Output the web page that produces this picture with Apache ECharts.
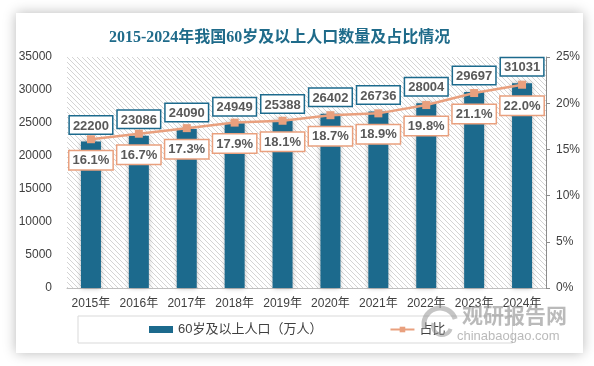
<!DOCTYPE html>
<html><head><meta charset="utf-8">
<script src="https://cdn.jsdelivr.net/npm/echarts@6/dist/echarts.min.js"></script>
<style>html,body{margin:0;padding:0;background:#fff;}#c{width:594px;height:366px;}</style>
</head><body><div id="c"></div>
<script>
const categories = ['2015年','2016年','2017年','2018年','2019年','2020年','2021年','2022年','2023年','2024年'];
const population = [22200,23086,24090,24949,25388,26402,26736,28004,29697,31031];
const share = [16.1,16.7,17.3,17.9,18.1,18.7,18.9,19.8,21.1,22.0];
const leftTicks = {min:0, max:35000, interval:5000};
const rightTicks = {min:0, max:25, interval:5};

const BLUE = '#1c6a8d', ORANGE = '#e9a07e', TXT = '#404040';
const pc = document.createElement('canvas');
pc.width = 5; pc.height = 5;
const g = pc.getContext('2d');
g.fillStyle = '#ffffff'; g.fillRect(0,0,5,5);
g.strokeStyle = '#d4d4d4'; g.lineWidth = 1;
g.beginPath(); g.moveTo(-1,-1); g.lineTo(6,6); g.stroke();
g.beginPath(); g.moveTo(-1,4); g.lineTo(1,6); g.stroke();
g.beginPath(); g.moveTo(4,-1); g.lineTo(6,1); g.stroke();

const chart = echarts.init(document.getElementById('c'), null, {renderer:'canvas'});
const font = '"Liberation Sans","Noto Sans CJK SC",sans-serif';
chart.setOption({
  animation:false,
  textStyle:{fontFamily:font},
  title:{text:'2015-2024年我国60岁及以上人口数量及占比情况', left:104, top:25,
    textStyle:{fontFamily:'"Liberation Serif","Noto Sans CJK SC",serif', fontSize:16, fontWeight:'bold', color:'#1f6b8a'}},
  graphic:[
    {type:'rect', z:-10, shape:{x:16,y:13,width:567,height:340}, style:{fill:'#fff', shadowBlur:12, shadowColor:'rgba(0,0,0,0.28)'}},
    {type:'arc', z:100, shape:{cx:440,cy:324,r:16,startAngle:Math.PI*0.9,endAngle:Math.PI*1.9}, style:{stroke:'rgba(150,150,150,0.55)', lineWidth:5, fill:null}},
    {type:'arc', z:100, shape:{cx:442,cy:326,r:9,startAngle:Math.PI*0.1,endAngle:Math.PI*1.1}, style:{stroke:'rgba(150,150,150,0.55)', lineWidth:4, fill:null}},
    {type:'text', z:100, left:462, top:305, style:{text:'观研报告网', font:'bold 21px "Noto Sans CJK SC"', fill:'rgba(140,140,140,0.6)'}},
    {type:'text', z:100, left:457, top:330, style:{text:'chinabaogao.com', font:'13px "Liberation Sans"', fill:'rgba(140,140,140,0.6)'}}
  ],
  grid:{left:67, right:48, top:57, bottom:78, show:true, borderWidth:0, backgroundColor:{image:pc, repeat:'repeat'}},
  legend:{left:78, top:316, padding:[7,67,7,71], itemGap:67, borderColor:'#d9d9d9', borderWidth:1,
    itemWidth:24, itemHeight:7, textStyle:{fontSize:13, color:TXT, fontFamily:font},
    data:[{name:'60岁及以上人口（万人）', icon:'rect'}, {name:'占比'}]},
  xAxis:{type:'category', data:categories,
    axisLine:{lineStyle:{color:'#bfbfbf'}}, axisTick:{show:false},
    axisLabel:{color:TXT, fontSize:12, margin:10, interval:0}},
  yAxis:[
    {type:'value', min:leftTicks.min, max:leftTicks.max, interval:leftTicks.interval,
      axisLine:{show:false}, axisTick:{show:false}, splitLine:{show:false},
      axisLabel:{color:TXT, fontSize:12, margin:15, formatter:v=>String(v)}},
    {type:'value', min:rightTicks.min, max:rightTicks.max, interval:rightTicks.interval, position:'right',
      axisLine:{show:true, lineStyle:{color:'#8c8c8c'}}, axisTick:{show:true, length:4, lineStyle:{color:'#8c8c8c'}}, splitLine:{show:false},
      axisLabel:{color:TXT, fontSize:12, margin:10, formatter:'{value}%'}}
  ],
  series:[
    {name:'60岁及以上人口（万人）', type:'bar', data:population, barWidth:20,
      itemStyle:{color:BLUE, shadowBlur:5, shadowColor:'rgba(0,0,0,0.3)'},
      label:{show:true, position:'top', distance:8, color:'#595959', fontWeight:'bold', fontSize:13,
        backgroundColor:'#fff', borderColor:BLUE, borderWidth:1.5, padding:[3,3,1,3]}},
    {name:'占比', type:'line', yAxisIndex:1, data:share, symbol:'rect', symbolSize:8,
      lineStyle:{color:ORANGE, width:2.5}, itemStyle:{color:ORANGE},
      label:{show:true, position:'bottom', distance:8, color:'#595959', fontWeight:'bold', fontSize:13,
        formatter:p=>p.value.toFixed(1)+'%',
        backgroundColor:'#fff', borderColor:ORANGE, borderWidth:1.5, padding:[3,3,2,3]}}
  ]
});
</script></body></html>
